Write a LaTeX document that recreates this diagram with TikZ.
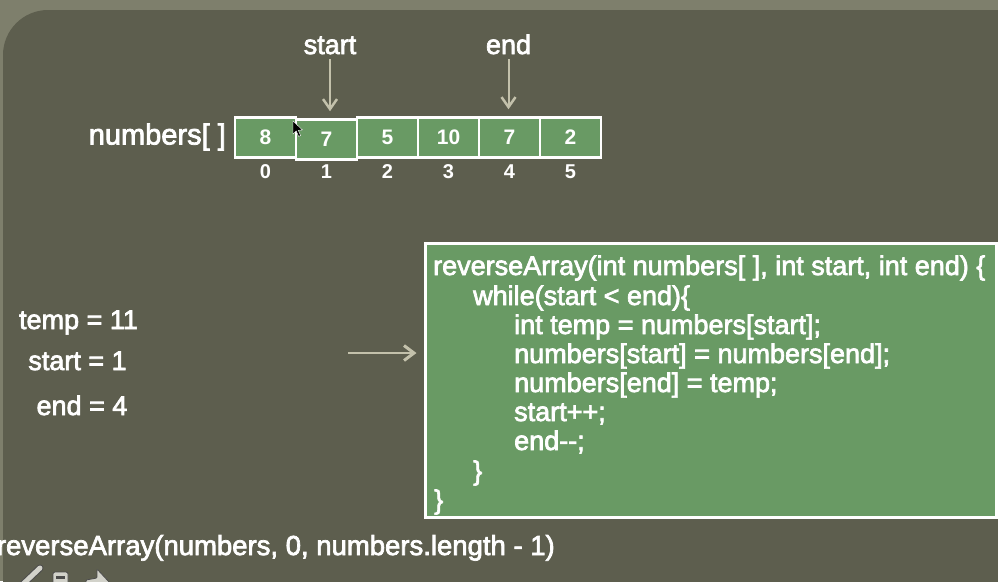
\documentclass[tikz,border=0pt]{standalone}
\usepackage{fontspec}
\setmainfont{Liberation Sans}
\newfontfamily\slidefont{Liberation Sans}[FakeBold=2.6]
\usetikzlibrary{arrows.meta}

\definecolor{outerbg}{HTML}{7E7F6C}
\definecolor{panel}{HTML}{5D5E4E}
\definecolor{cellgreen}{HTML}{699A64}
\definecolor{pointer}{HTML}{C3C1AB}
\definecolor{iconfill}{HTML}{D2D2CA}

\tikzset{
  slidetext/.style={text=white, inner sep=0pt, font=\slidefont\fontsize{27}{30}\selectfont},
  cell/.style={draw=white, line width=2.5pt, fill=cellgreen, minimum width=61pt,
    minimum height=40pt, inner sep=0pt, text=white, font=\fontsize{21}{24}\selectfont\bfseries},
  idx/.style={text=white, inner sep=0pt, font=\fontsize{20}{22}\selectfont\bfseries},
  codebox/.style={draw=white, line width=3pt, fill=cellgreen, minimum width=571pt,
    minimum height=274pt, inner sep=0pt},
  codeline/.style={slidetext, anchor=base west},
  ptr/.style={draw=pointer, line width=2pt, -{Straight Barb[length=10pt, width=14pt, line width=2.5pt]}},
  icon/.style={fill=iconfill, draw=black!70, line width=0.8pt}
}

\begin{document}
\begin{tikzpicture}[x=1pt, y=-1pt]
  \useasboundingbox (0,0) rectangle (998,581);

  % slide background and rounded panel
  \fill[outerbg] (0,0) rectangle (998,581);
  \fill[panel] (3,590) -- (3,55) .. controls (3,30.2) and (23.2,10) .. (48,10)
    -- (1005,10) -- (1005,590) -- cycle;

  % array cells
  \foreach \v [count=\i from 0] in {8,7,5,10,7,2} {
    \pgfmathsetmacro{\dy}{ifthenelse(\i==1,2,0)}
    \node[cell] (c\i) at (265.5+61*\i, 137.5+\dy) {\v};
    \node[idx] (idx\i) at (265.5+61*\i, 172) {\i};
  }
  \node[slidetext, anchor=east, font=\slidefont\fontsize{29}{32}\selectfont] (arrname) at (226,137) {numbers[ ]};

  % start / end markers
  \node[slidetext, anchor=base] (startlbl) at (330,54) {start};
  \node[slidetext, anchor=base] (endlbl) at (508.5,54) {end};
  \draw[ptr] ([yshift=-5pt]startlbl.south) -- ([yshift=7pt]startlbl.south |- c1.north);
  \draw[ptr] ([yshift=-5pt]endlbl.south) -- ([yshift=7pt]endlbl.south |- c4.north);

  % mouse pointer
  \filldraw[black, draw=white, line width=0.4pt] (293,121) -- (293,134) -- (296.2,131) -- (298.6,136.4)
    -- (300.6,135.5) -- (298.3,130.3) -- (302.5,130) -- cycle;

  % variables
  \node[slidetext, anchor=base] (vtemp) at (78.5,329) {temp = 11};
  \node[slidetext, anchor=base] (vstart) at (77.5,370) {start = 1};
  \node[slidetext, anchor=base] (vend) at (82,415) {end = 4};

  % code panel
  \node[codebox] (code) at (710.5,380) {};
  \node[codeline] (l1) at (433,275) {reverseArray(int numbers[ ], int start, int end) \{};
  \node[codeline] (l2) at (473,305) {while(start < end)\{};
  \node[codeline] (l3) at (514,334) {int temp = numbers[start];};
  \node[codeline] (l4) at (514,363) {numbers[start] = numbers[end];};
  \node[codeline] (l5) at (514,392) {numbers[end] = temp;};
  \node[codeline] (l6) at (514,421) {start++;};
  \node[codeline] (l7) at (514,450) {end-{}-;};
  \node[codeline] (l8) at (473,480) {\}};
  \node[codeline] (l9) at (434,509) {\}};

  \coordinate (varsarrow) at (348,353);
  \draw[ptr, line width=2.8pt, -{Straight Barb[length=10pt, width=15pt, line width=3pt]}]
    (varsarrow) -- ([xshift=-7pt]code.west |- varsarrow);

  % call
  \node[slidetext, anchor=base east, font=\slidefont\fontsize{27.5}{30}\selectfont] (call) at (555,555)
    {reverseArray(numbers, 0, numbers.length - 1)};

  % player controls
  \begin{scope}
    \clip (0,0) rectangle (998,581);
    \draw[black!70, line width=7pt, line cap=round] (21,586) -- (40,568);
    \draw[iconfill, line width=5pt, line cap=round] (21,586) -- (40,568);
    \draw[icon, rounded corners=2pt] (53,572) rectangle (68,592);
    \fill[black!70] (56,576) rectangle (65,579);
    \draw[icon, rounded corners=1pt] (86,580) -- (97,578) -- (97,569) -- (110,583) -- (97,597) -- (97,590) -- (86,590) -- cycle;
  \end{scope}
\end{tikzpicture}
\end{document}
